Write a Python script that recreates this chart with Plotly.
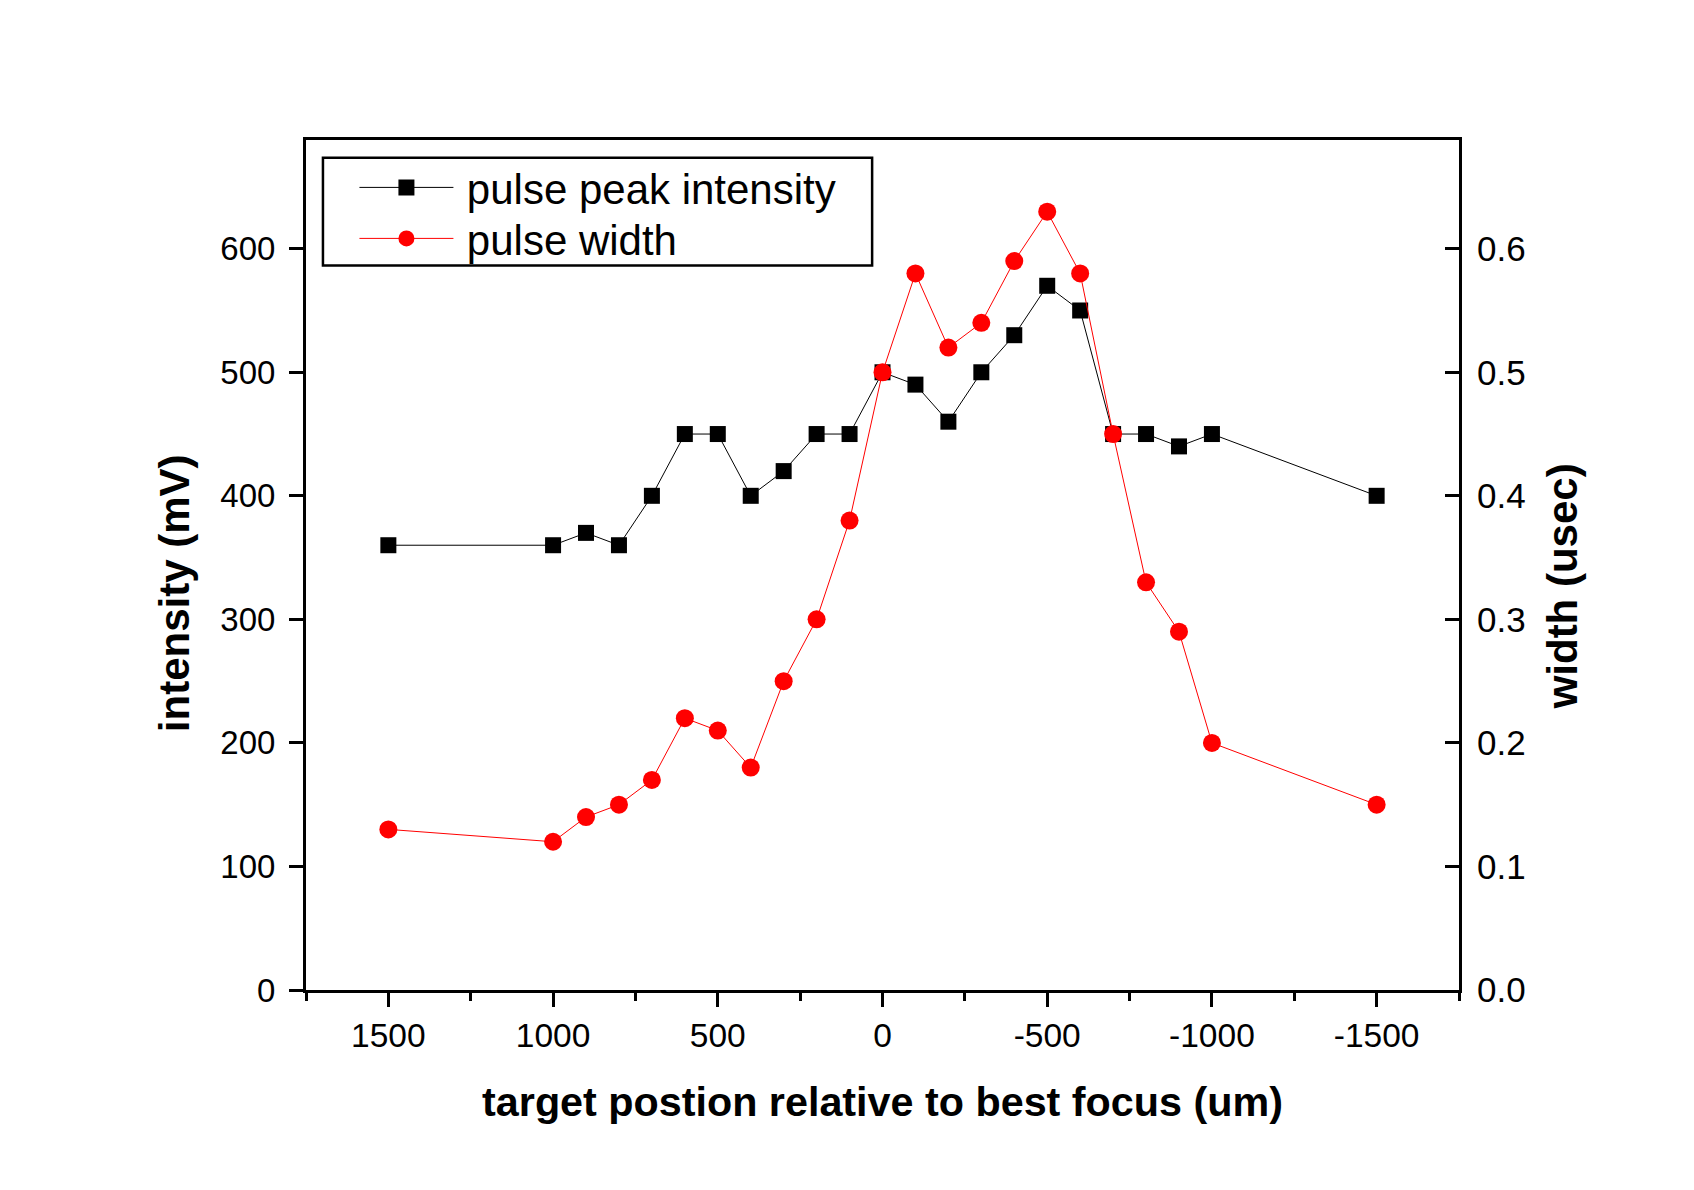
import plotly.graph_objects as go

position_um = [1500, 1000, 900, 800, 700, 600, 500, 400, 300, 200, 100, 0,
               -100, -200, -300, -400, -500, -600, -700, -800, -900, -1000, -1500]
peak_intensity_mV = [360, 360, 370, 360, 400, 450, 450, 400, 420, 450, 450, 500,
                     490, 460, 500, 530, 570, 550, 450, 450, 440, 450, 400]
pulse_width_usec = [0.13, 0.12, 0.14, 0.15, 0.17, 0.22, 0.21, 0.18, 0.25, 0.30, 0.38, 0.50,
                    0.58, 0.52, 0.54, 0.59, 0.63, 0.58, 0.45, 0.33, 0.29, 0.20, 0.15]
x_tick_vals = [1500, 1000, 500, 0, -500, -1000, -1500]
x_tick_text = ["1500", "1000", "500", "0", "-500", "-1000", "-1500"]
y_tick_vals = [0, 100, 200, 300, 400, 500, 600]
y2_tick_vals = [0, 0.1, 0.2, 0.3, 0.4, 0.5, 0.6]
y2_tick_text = ["0.0", "0.1", "0.2", "0.3", "0.4", "0.5", "0.6"]

FONT = "Liberation Sans, Arial, sans-serif"

fig = go.Figure()
fig.add_trace(go.Scatter(
    x=position_um, y=peak_intensity_mV, name="\u2009pulse peak intensity",
    mode="lines+markers",
    line=dict(color="black", width=1),
    marker=dict(symbol="square", size=16, color="black"),
    legend="legend",
))
fig.add_trace(go.Scatter(
    x=position_um, y=pulse_width_usec, name="\u2009pulse width", yaxis="y2",
    mode="lines+markers",
    line=dict(color="#ff0000", width=1),
    marker=dict(symbol="circle", size=18, color="#ff0000"),
    legend="legend2",
))

# legend frame
fig.add_shape(type="rect", xref="paper", yref="paper",
              x0=0.0147, x1=0.491, y0=0.8525, y1=0.979,
              line=dict(color="black", width=2.5), fillcolor="rgba(0,0,0,0)")

# y-axis titles (placed as annotations, slightly below axis centre as in the original)
fig.add_annotation(text="<b>intensity (mV)</b>", xref="paper", yref="paper",
                   x=-0.1144, y=0.467, xanchor="center", yanchor="middle",
                   textangle=-90, showarrow=False,
                   font=dict(size=42, family=FONT, color="black"))
fig.add_annotation(text="<b>width (usec)</b>", xref="paper", yref="paper",
                   x=1.090, y=0.4746, xanchor="center", yanchor="middle",
                   textangle=-90, showarrow=False,
                   font=dict(size=42, family=FONT, color="black"))

legend_common = dict(
    xanchor="left", yanchor="top",
    bgcolor="rgba(0,0,0,0)", borderwidth=0,
    font=dict(size=42, family=FONT), itemwidth=94,
    tracegroupgap=0,
)

fig.update_layout(
    width=1694, height=1190,
    paper_bgcolor="white", plot_bgcolor="white",
    margin=dict(l=306, r=235, t=140, b=200),
    font=dict(family=FONT, size=33, color="black"),
    showlegend=True,
    legend=dict(x=0.042, y=0.984, **legend_common),
    legend2=dict(x=0.042, y=0.924, **legend_common),
    xaxis=dict(
        range=[1750, -1750], tickmode="array",
        tickvals=x_tick_vals, ticktext=x_tick_text,
        showgrid=False, zeroline=False,
        showline=True, linecolor="black", linewidth=3, mirror=True,
        ticks="outside", ticklen=14, tickwidth=3, tickcolor="black",
        minor=dict(dtick=250, tick0=0, ticks="outside", ticklen=8, tickwidth=3, tickcolor="black", showgrid=False),
        tickfont=dict(size=33.5, family=FONT),
        title=dict(text="<b>target postion relative to best focus (um)</b>",
                   font=dict(size=41.3, family=FONT), standoff=34),
    ),
    yaxis=dict(
        range=[0, 688], tickvals=y_tick_vals,
        showgrid=False, zeroline=False,
        showline=True, linecolor="black", linewidth=3,
        ticks="outside", ticklen=14, tickwidth=3, tickcolor="black",
        ticklabelstandoff=7,
        tickfont=dict(size=33, family=FONT),
    ),
    yaxis2=dict(
        range=[0, 0.688], tickvals=y2_tick_vals, ticktext=y2_tick_text,
        overlaying="y", side="right",
        showgrid=False, zeroline=False,
        showline=True, linecolor="black", linewidth=3,
        ticks="inside", ticklen=14, tickwidth=3, tickcolor="black",
        ticklabelstandoff=8,
        tickfont=dict(size=35, family=FONT),
    ),
)

fig.write_html("out.html", config={"displayModeBar": False},
               post_script="document.body.style.margin='0';document.body.style.padding='0';")
